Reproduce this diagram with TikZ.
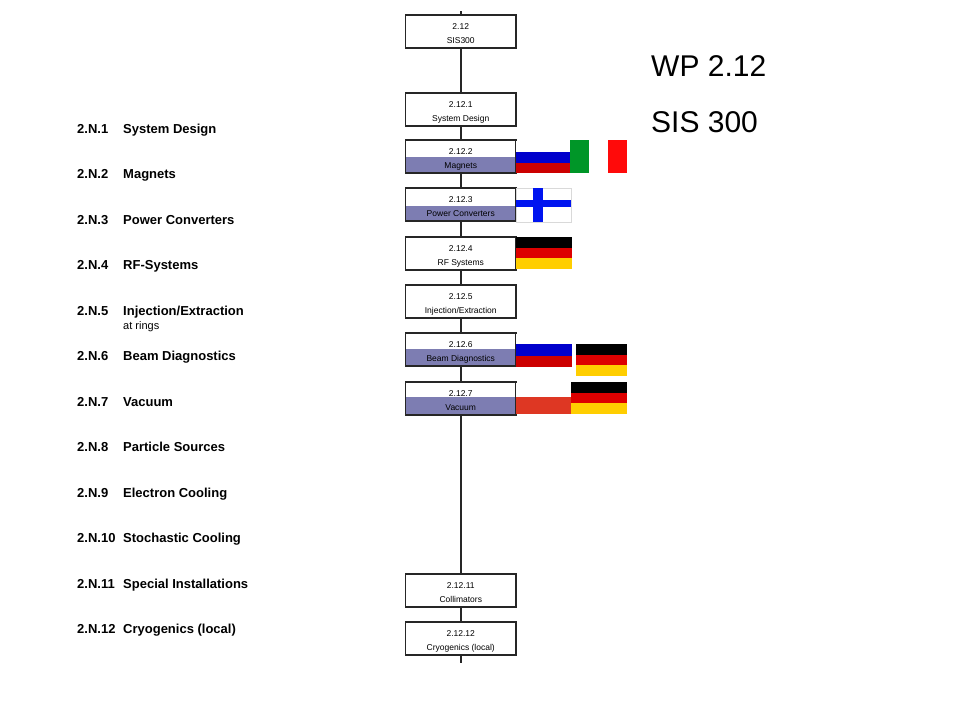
\documentclass[tikz,border=0pt]{standalone}
\usepackage{fontspec}
\setmainfont{Liberation Sans}
\usetikzlibrary{calc}
\definecolor{wbsshade}{RGB}{125,125,178}
\definecolor{rublue}{RGB}{0,0,204}
\definecolor{rured}{RGB}{204,0,0}
\definecolor{dered}{RGB}{221,0,0}
\definecolor{degold}{RGB}{255,206,0}
\definecolor{itgreen}{RGB}{0,150,40}
\definecolor{itred}{RGB}{255,10,10}
\definecolor{fiblue}{RGB}{0,20,240}
\definecolor{vacred}{RGB}{222,55,35}
\tikzset{
  wbs/.style={draw=black!85, line width=1.4pt, minimum width=110.5pt, minimum height=33pt, inner sep=0pt},
  boxtxt/.style={anchor=base, inner sep=0pt, font=\fontsize{8.5}{10}\selectfont},
  wpnum/.style={anchor=base west, inner sep=0pt, font=\fontsize{13}{15}\selectfont\bfseries},
  wpname/.style={anchor=base west, inner sep=0pt, font=\fontsize{13}{15}\selectfont\bfseries},
  conn/.style={draw=black!85, line width=1.5pt},
  bigtxt/.style={anchor=base west, inner sep=0pt, font=\fontsize{30}{34}\selectfont}
}
\newcommand\wbsbox[4]{%
  \node[wbs] (#1) at (460.75,#2+16.5) {};
  \node[boxtxt] (#1n) at (460.75,#2+14) {#3};
  \node[boxtxt] (#1l) at (460.75,#2+28.5) {#4};
}
\newcommand\deflag[4]{% x1 y1 x2 y2
  \fill[black] (#1,#2) rectangle (#3,{#2+(#4-#2)/3});
  \fill[dered] (#1,{#2+(#4-#2)/3}) rectangle (#3,{#2+2*(#4-#2)/3});
  \fill[degold] (#1,{#2+2*(#4-#2)/3}) rectangle (#3,#4);
}
\begin{document}
\begin{tikzpicture}[x=1pt,y=-1pt]
\useasboundingbox (0,0) rectangle (960,720);
\fill[white] (0,0) rectangle (960,720);

% shading of boxes
\fill[wbsshade] (405.5,157) rectangle (516,173);
\fill[wbsshade] (405.5,206) rectangle (516,222);
\fill[wbsshade] (405.5,349) rectangle (516,367);
\fill[wbsshade] (405.5,397) rectangle (516,414);

% boxes
\wbsbox{b0}{15}{2.12}{SIS300}
\wbsbox{b1}{93}{2.12.1}{System Design}
\wbsbox{b2}{140}{2.12.2}{Magnets}
\wbsbox{b3}{188}{2.12.3}{Power Converters}
\wbsbox{b4}{237}{2.12.4}{RF Systems}
\wbsbox{b5}{285}{2.12.5}{Injection/Extraction}
\wbsbox{b6}{333}{2.12.6}{Beam Diagnostics}
\wbsbox{b7}{382}{2.12.7}{Vacuum}
\wbsbox{b11}{574}{2.12.11}{Collimators}
\wbsbox{b12}{622}{2.12.12}{Cryogenics (local)}

% connectors
\coordinate (top) at (460.75,11);
\coordinate (bot) at (460.75,663);
\draw[conn] (top) -- (b0.north);
\draw[conn] (b0.south) -- (b1.north);
\draw[conn] (b1.south) -- (b2.north);
\draw[conn] (b2.south) -- (b3.north);
\draw[conn] (b3.south) -- (b4.north);
\draw[conn] (b4.south) -- (b5.north);
\draw[conn] (b5.south) -- (b6.north);
\draw[conn] (b6.south) -- (b7.north);
\draw[conn] (b7.south) -- (b11.north);
\draw[conn] (b11.south) -- (b12.north);
\draw[conn] (b12.south) -- (bot);

% white covers of right edges above flags
\fill[white] (515.8,141) rectangle (518,152);
\fill[white] (515.8,334) rectangle (518,344);
\fill[white] (515.8,383) rectangle (518,397);

% flags
\fill[rublue] (516,152) rectangle (570,162.5);
\fill[rured] (516,162.5) rectangle (570,173);
\fill[itgreen] (570,140) rectangle (589,173);
\fill[itred] (608,140) rectangle (627,173);

\filldraw[fill=white, draw=black!15, line width=0.5pt] (516,188) rectangle (571,222);
\fill[fiblue] (533,188) rectangle (543,222);
\fill[fiblue] (516,200) rectangle (571,207);

\deflag{516}{237}{572}{269}

\fill[rublue] (516,344) rectangle (572,355.5);
\fill[rured] (516,355.5) rectangle (572,367);
\deflag{576}{344}{627}{376}

\fill[vacred] (516,397) rectangle (571,414);
\deflag{571}{382}{627}{414}

% left list
\foreach \i/\t in {1/{System Design}, 2/{Magnets}, 3/{Power Converters}, 4/{RF-Systems},
  5/{Injection/Extraction}, 6/{Beam Diagnostics}, 7/{Vacuum}, 8/{Particle Sources},
  9/{Electron Cooling}, 10/{Stochastic Cooling}, 11/{Special Installations}, 12/{Cryogenics (local)}}{
  \node[wpnum] (n\i) at (77,{133+45.5*(\i-1)}) {2.N.\i};
  \node[wpname] (l\i) at (123,{133+45.5*(\i-1)}) {\t};
}
\node[anchor=base west, inner sep=0pt, font=\fontsize{11}{13}\selectfont] (l5b) at (123,329) {at rings};

% title
\node[bigtxt] (wp) at (651,76) {WP 2.12};
\node[bigtxt] (sis) at (651,132) {SIS 300};
\end{tikzpicture}
\end{document}
